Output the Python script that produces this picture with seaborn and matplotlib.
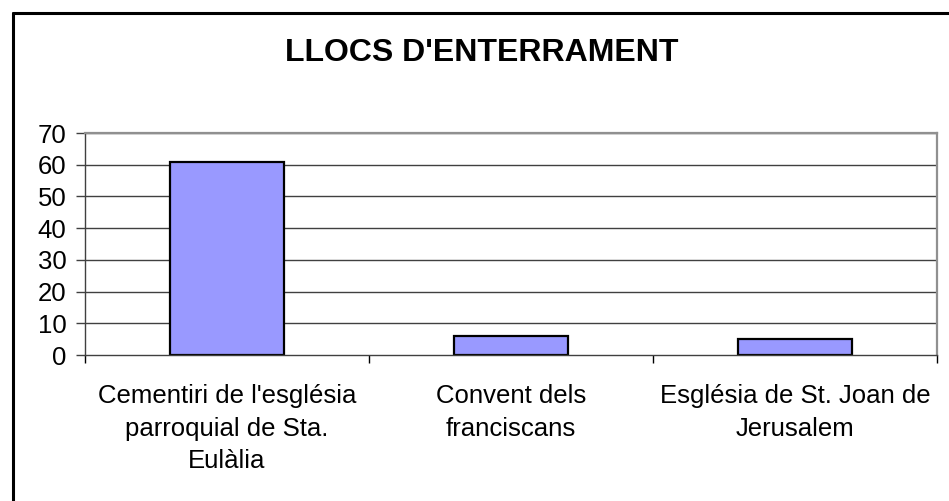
import matplotlib
matplotlib.use("Agg")
import matplotlib.pyplot as plt
from matplotlib.lines import Line2D
import seaborn as sns
import pandas as pd

# Burial places and number of burials
categories = [
    "Cementiri de l'església\nparroquial de Sta.\nEulàlia",
    "Convent dels\nfranciscans",
    "Església de St. Joan de\nJerusalem",
]
values = [61, 6, 5]
y_ticks = [0, 10, 20, 30, 40, 50, 60, 70]
title = "LLOCS D'ENTERRAMENT"

sns.set_style("white")
plt.rcParams["font.family"] = ["Liberation Sans", "DejaVu Sans"]
plt.rcParams["text.color"] = "black"
plt.rcParams["xtick.color"] = "black"
plt.rcParams["ytick.color"] = "black"

df = pd.DataFrame({"lloc": categories, "n": values})

fig = plt.figure(figsize=(9.49, 5.01), dpi=100)
ax = fig.add_axes([0.0896, 0.2914, 0.8978, 0.4431])

ax.set_axisbelow(True)
for t in y_ticks[1:]:
    ax.axhline(t, color="#404040", lw=1.0, zorder=0)

sns.barplot(data=df, x="lloc", y="n", ax=ax, color="#9999FF",
            saturation=1, width=0.4, edgecolor="black", linewidth=1.6, zorder=2)

ax.set_xlim(-0.5, 2.5)
ax.set_ylim(0, 70)
ax.set_yticks(y_ticks)
ax.set_yticklabels([str(t) for t in y_ticks], fontsize=18.5, color="black")
ax.tick_params(axis="y", direction="out", length=6.5, width=1, color="#404040", pad=7, left=True)

ax.set_xticks(range(len(categories)))
ax.set_xticklabels(categories, fontsize=18.5, linespacing=1.45, color="black")
ax.tick_params(axis="x", which="major", length=0, pad=21)
ax.set_xticks([-0.5, 0.5, 1.5, 2.5], minor=True)
ax.tick_params(axis="x", which="minor", direction="out", length=6, width=1, color="black", bottom=True)

ax.set_xlabel("")
ax.set_ylabel("")

for side in ["top", "right"]:
    ax.spines[side].set_color("#909090")
    ax.spines[side].set_linewidth(1.6)
ax.spines["left"].set_color("#404040")
ax.spines["left"].set_linewidth(1.0)
ax.spines["bottom"].set_color("#404040")
ax.spines["bottom"].set_linewidth(1.0)

fig.text(482 / 949, 1 - 53 / 501, title, ha="center", va="center",
         fontsize=23, fontweight="bold", color="black")

# Outer chart frame (left and top edges)
fig.add_artist(Line2D([13 / 949, 13 / 949], [0, 1 - 13 / 501], transform=fig.transFigure,
                      color="black", lw=2.2))
fig.add_artist(Line2D([13 / 949, 1], [1 - 13 / 501, 1 - 13 / 501], transform=fig.transFigure,
                      color="black", lw=2.2))

fig.savefig("out.png", dpi=100)
